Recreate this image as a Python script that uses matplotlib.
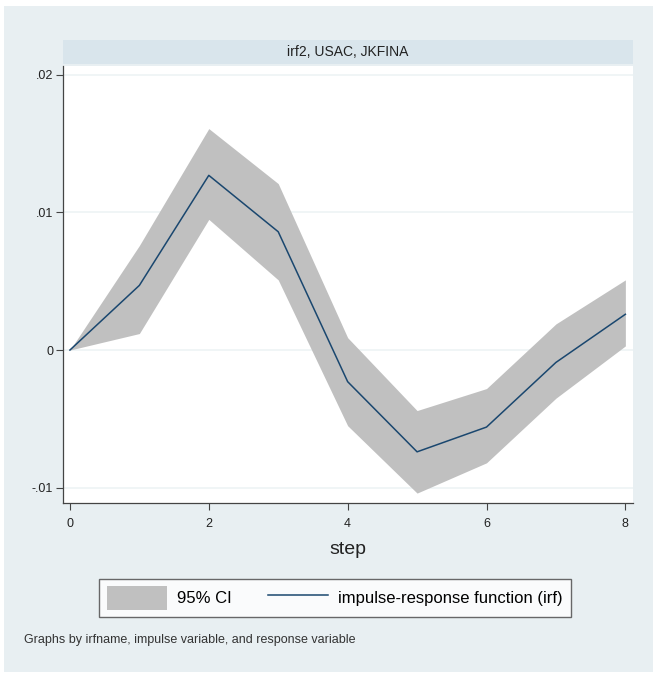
import numpy as np
import matplotlib.pyplot as plt
from matplotlib.patches import Rectangle, Patch
from matplotlib.lines import Line2D

plt.rcParams['font.family'] = ['Liberation Sans', 'DejaVu Sans']

# impulse response of JKFINA to USAC, with 95% band
step = [0, 1, 2, 3, 4, 5, 6, 7, 8]
irf = [0.0, 0.0047, 0.0127, 0.0086, -0.0023, -0.0074, -0.0056, -0.0009, 0.0026]
ci_lo = [0.0, 0.0012, 0.0095, 0.0051, -0.0055, -0.0104, -0.0082, -0.0035, 0.0003]
ci_hi = [0.0, 0.0076, 0.0161, 0.0121, 0.0009, -0.0044, -0.0028, 0.0019, 0.0051]

panel_title = "irf2, USAC, JKFINA"
yticks = [-0.01, 0, 0.01, 0.02]
ytick_labels = ["-.01", "0", ".01", ".02"]
xticks = [0, 2, 4, 6, 8]

W, H = 653, 674
fig = plt.figure(figsize=(W / 100, H / 100), dpi=100)
fig.patch.set_facecolor("white")

def fx(px):
    return px / W

def fy(py):
    return 1 - py / H

# outer graph region
fig.patches.append(Rectangle((fx(4), fy(672)), fx(653) - fx(4), fy(6) - fy(672),
                             transform=fig.transFigure, facecolor="#e8eff2",
                             edgecolor="none", zorder=-2))
# by-group title strip
fig.patches.append(Rectangle((fx(63), fy(64)), fx(633) - fx(63), fy(40) - fy(64),
                             transform=fig.transFigure, facecolor="#d9e5ec",
                             edgecolor="none", zorder=-1))
fig.text(fx(348), fy(52), panel_title, ha="center", va="center", fontsize=10, color="#222222")

ax = fig.add_axes([fx(63), fy(503), fx(633) - fx(63), fy(66) - fy(503)])
ax.set_facecolor("white")

ax.fill_between(step, ci_lo, ci_hi, color="#c0c0c0", linewidth=0, zorder=2)
ax.plot(step, irf, color="#1a476f", linewidth=1.1, zorder=3)

ax.set_xlim(-0.1, 8.11)
ax.set_ylim(-0.01112, 0.02065)
ax.set_xticks(xticks)
ax.set_yticks(yticks)
ax.set_yticklabels(ytick_labels)
ax.grid(axis="y", color="#edf3f5", linewidth=1.2, zorder=0)
ax.set_axisbelow(True)

for side in ("top", "right"):
    ax.spines[side].set_visible(False)
for side in ("left", "bottom"):
    ax.spines[side].set_color("#444444")
    ax.spines[side].set_linewidth(0.9)
ax.tick_params(direction="out", length=5, width=0.8, color="#444444",
               labelsize=9, labelcolor="#222222")
ax.tick_params(axis="x", pad=6)
ax.tick_params(axis="y", pad=2)

ax.set_xlabel("step", fontsize=14, color="#222222", labelpad=8)

handles = [Patch(facecolor="#c0c0c0", edgecolor="none"),
           Line2D([0], [0], color="#1a476f", linewidth=1.1)]
leg = fig.legend(handles, ["95% CI", "impulse-response function (irf)"],
                 loc="center", bbox_to_anchor=(fx(335), fy(598)), ncol=2,
                 fontsize=12, frameon=True, fancybox=False, handlelength=3.6,
                 handleheight=1.8, handletextpad=0.6, columnspacing=2.2, borderpad=0.45)
leg.get_frame().set_edgecolor("#444444")
leg.get_frame().set_linewidth(1.0)
leg.get_frame().set_facecolor("white")

fig.text(fx(24), fy(640), "Graphs by irfname, impulse variable, and response variable",
         ha="left", va="center", fontsize=9, color="#333333")

fig.savefig("out.png", dpi=100, facecolor=fig.get_facecolor())
